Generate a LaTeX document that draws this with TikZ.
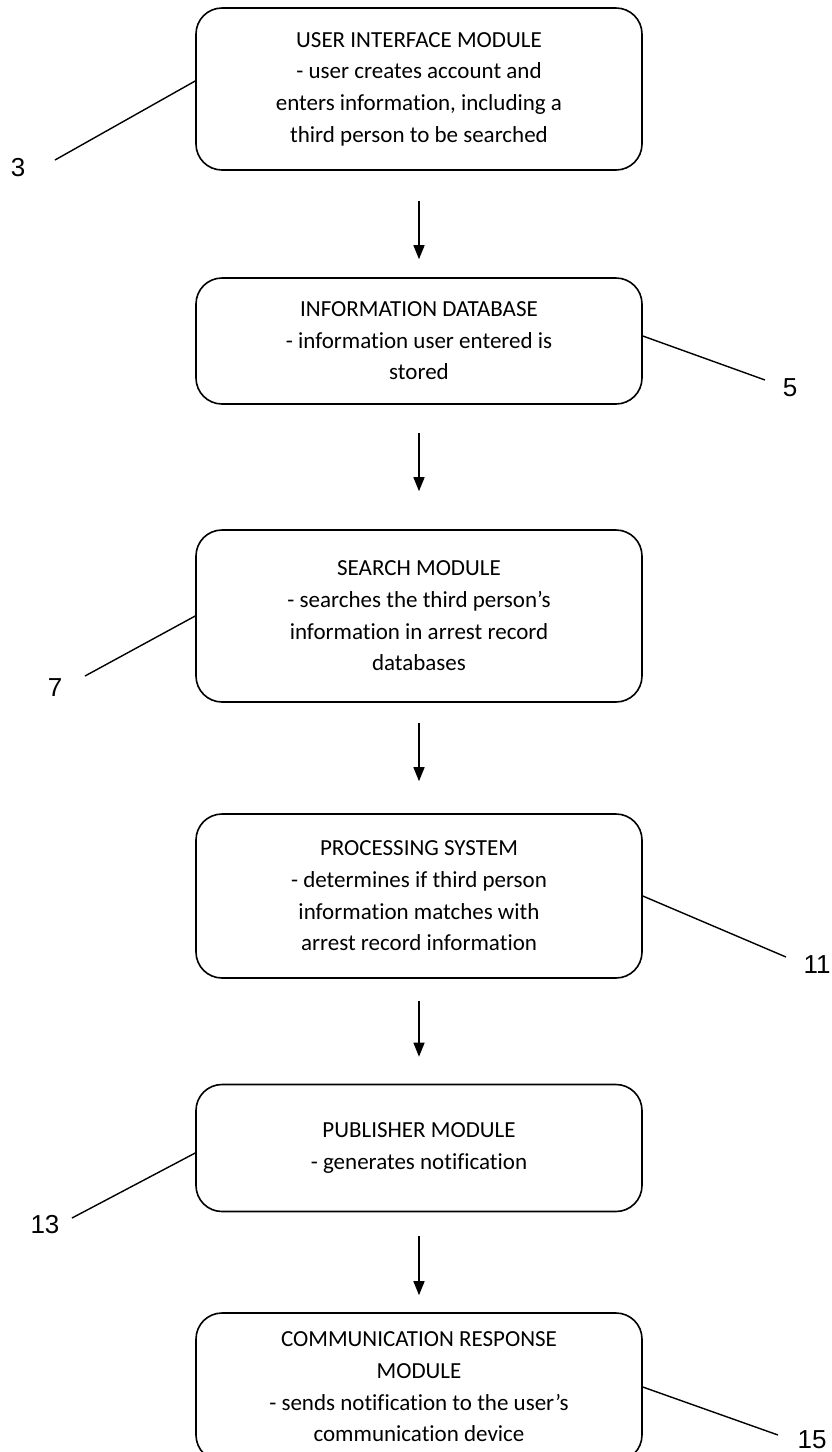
\documentclass[tikz,border=0pt]{standalone}
\usepackage{fontspec}
\setmainfont[Ligatures=NoCommon]{Carlito}
\newfontfamily\ziffernfont{Liberation Sans}
\usetikzlibrary{arrows.meta,positioning}

\begin{document}
\begin{tikzpicture}[x=1pt,y=-1pt,
		modul/.style={draw, line width=1.6pt, rounded corners=26pt, minimum width=446pt, align=center, inner sep=0pt, font=\fontsize{23}{31.6}\selectfont},
		ziffer/.style={font=\ziffernfont\fontsize{26}{26}\selectfont, inner sep=0pt},
		pfeil/.style={-{Triangle[length=14pt,width=11pt]}, line width=1.4pt},
		fuehrung/.style={line width=1.4pt}]
			\useasboundingbox (0,0) rectangle (832,1452);
			\def\mitte{419}
			\node[modul, minimum height=162pt] (ui) at (\mitte,89) {USER INTERFACE MODULE\\- user creates account and\\enters information, including a\\third person to be searched};
			\node[modul, minimum height=126pt] (db) at (\mitte,341) {INFORMATION DATABASE\\- information user entered is\\stored};
			\node[modul, minimum height=172pt] (such) at (\mitte,616) {SEARCH MODULE\\- searches the third person's\\information in arrest record\\databases};
			\node[modul, minimum height=164pt] (proz) at (\mitte,896) {PROCESSING SYSTEM\\- determines if third person\\information matches with\\arrest record information};
			\node[modul, minimum height=127pt] (pub) at (\mitte,1148) {PUBLISHER MODULE\\- generates notification};
			\node[modul, minimum height=148pt] (komm) at (\mitte,1387) {COMMUNICATION RESPONSE\\MODULE\\- sends notification to the user's\\communication device};
			\draw[pfeil, shorten <=30pt, shorten >=18pt] (ui) -- (db);
			\draw[pfeil, shorten <=28pt, shorten >=38pt] (db) -- (such);
			\draw[pfeil, shorten <=20pt, shorten >=32pt] (such) -- (proz);
			\draw[pfeil, shorten <=22pt, shorten >=27pt] (proz) -- (pub);
			\draw[pfeil, shorten <=24pt, shorten >=17pt] (pub) -- (komm);
			\coordinate (e3) at (55,160);
			\coordinate (e5) at (765,380);
			\coordinate (e7) at (85,676);
			\coordinate (e11) at (786,957);
			\coordinate (e13) at (72,1218);
			\coordinate (e15) at (778,1435);
			\node[ziffer] (z3) at (18,168) {3};
			\node[ziffer] (z5) at (790,388) {5};
			\node[ziffer] (z7) at (55,688) {7};
			\node[ziffer] (z11) at (817,965) {11};
			\node[ziffer] (z13) at (45,1225) {13};
			\node[ziffer] (z15) at (812,1440) {15};
			\draw[fuehrung] ([yshift=8pt]ui.west) -- (e3);
			\draw[fuehrung] ([yshift=5pt]db.east) -- (e5);
			\draw[fuehrung] (such.west) -- (e7);
			\draw[fuehrung] (proz.east) -- (e11);
			\draw[fuehrung] ([yshift=-5pt]pub.west) -- (e13);
			\draw[fuehrung] (komm.east) -- (e15);
		\end{tikzpicture}
\end{document}
